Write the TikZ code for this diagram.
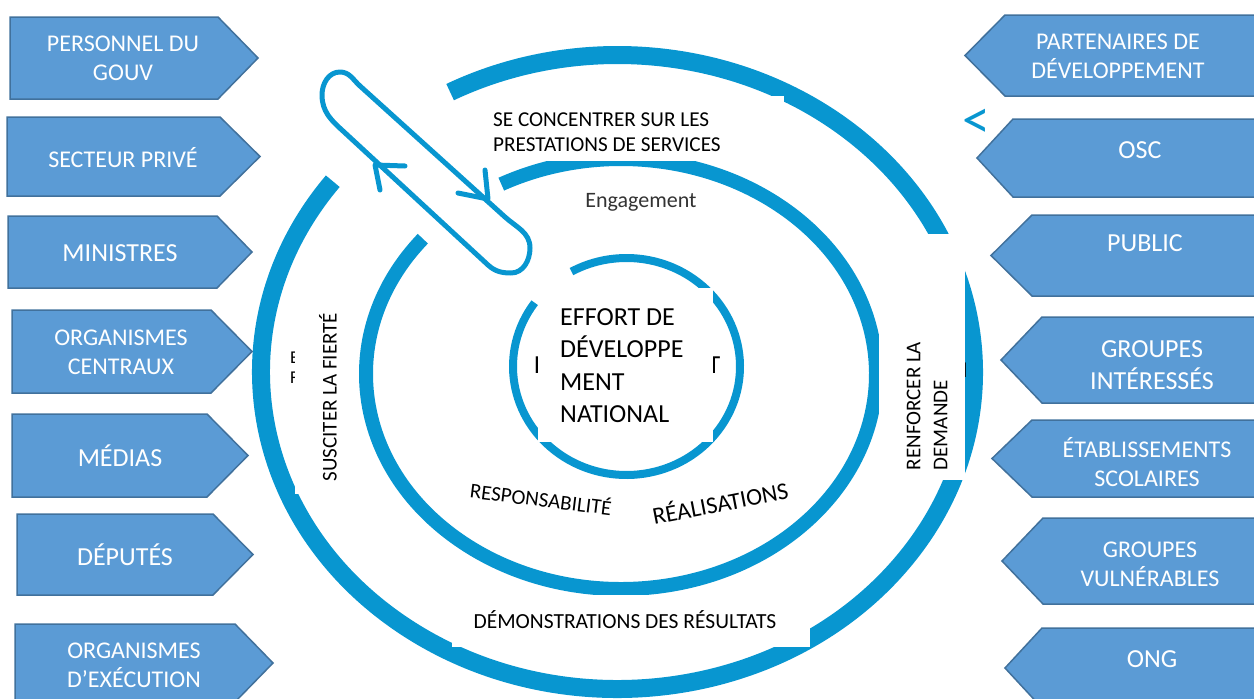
\documentclass[tikz,border=0pt]{standalone}
\usepackage{fontspec}
\setmainfont{Carlito}
\usetikzlibrary{calc}
\definecolor{ringblue}{RGB}{8,150,208}
\definecolor{arrowfill}{RGB}{91,155,213}
\definecolor{arrowline}{RGB}{65,113,156}
\newcommand{\szA}{\fontsize{24}{29}\selectfont}
\newcommand{\szB}{\fontsize{26}{32}\selectfont}
\newcommand{\pentarrow}[5]{\path[abox] (#1,-#2) -- (#4,-#2) -- (#5,{-(#2+#3)/2}) -- (#4,-#3) -- (#1,-#3) -- cycle;}
\begin{document}
\begin{tikzpicture}[x=1pt,y=1pt,
  ringline/.style={draw=ringblue,line width=#1},
  loopline/.style={draw=ringblue,line width=5,line cap=round,line join=round},
  abox/.style={fill=arrowfill,draw=arrowline,line width=1.5},
  atext/.style={text=white,align=center,inner sep=0},
  ctext/.style={text=black,inner sep=0},
  mask/.style={fill=white}]
\useasboundingbox (0,0) rectangle (1254,-699);
\clip (0,0) rectangle (1254,-699);
% rings
\coordinate (oc) at (617.5,-372);
\coordinate (mc) at (621,-374);
\coordinate (ic) at (626.5,-366.5);
\draw[ringline=18] ($(oc)+(143:356.5 and 317)$) arc[start angle=143,end angle=478,x radius=356.5,y radius=317];
\draw[ringline=14] ($(mc)+(141:255 and 215)$) arc[start angle=141,end angle=478,x radius=255,y radius=215];
\draw[ringline=8] ($(ic)+(144:113.5 and 108.5)$) arc[start angle=144,end angle=479,x radius=113.5,y radius=108.5];
% loop arrow
\draw[loopline] (360,-86) -- (505,-217) to[out=-42,in=90] (530,-248) to[out=-90,in=0] (511,-273)
  to[out=180,in=-42] (488,-265) -- (343,-131) to[out=138,in=-90] (322,-95) to[out=90,in=180] (340,-72)
  to[out=0,in=138] cycle;
\draw[loopline] (458,-193) -- (488,-199) -- (485,-170);
\draw[loopline] (380,-190) -- (375,-165) -- (405,-166);
% hidden remnants
\node[ctext,font=\szB] (hidd) at (542,-365) {D};
\node[ctext,font=\szB] (hidt) at (714,-365) {T};
\node[ctext,font=\fontsize{18}{20}\selectfont,align=left,anchor=west] (ef) at (290,-368) {E\\F};
\node[ctext,font=\fontsize{21}{25}\selectfont] (dd) at (962,-370) {d};
\node[text=ringblue,inner sep=0,font=\fontsize{56}{62}\selectfont] (lt) at (976,-124) {<};
% white masks
\fill[mask] (470,-96) rectangle (784,-161);
\fill[mask] (452,-595) rectangle (810,-647);
\fill[mask] (295,-300) rectangle (355,-494);
\fill[mask] (879,-234) rectangle (965,-480);
\fill[mask] (538,-288) rectangle (713,-442);
% ring texts
\node[ctext,align=left,anchor=west,font=\fontsize{21.2}{25}\selectfont] (focus) at (493,-132.5) {SE CONCENTRER SUR LES\\PRESTATIONS DE SERVICES};
\node[inner sep=0,text=black!80,font=\fontsize{22}{26}\selectfont] (eng) at (641,-202) {Engagement};
\node[ctext,align=left,anchor=west,font=\fontsize{26}{32.5}\selectfont] (core) at (560,-365.5) {EFFORT DE\\DÉVELOPPE\\MENT\\NATIONAL};
\node[ctext,rotate=90,font=\fontsize{21}{25}\selectfont] (pride) at (328,-397) {SUSCITER LA FIERTÉ};
\node[ctext,rotate=90,align=left,font=\fontsize{21}{27}\selectfont] (demand) at (927,-406) {RENFORCER LA\\DEMANDE};
\node[ctext,rotate=-7,font=\fontsize{21}{25}\selectfont] (resp) at (541,-498) {RESPONSABILITÉ};
\node[ctext,rotate=11,font=\fontsize{24}{28}\selectfont] (real) at (720,-502) {RÉALISATIONS};
\node[ctext,font=\fontsize{21.5}{26}\selectfont] (demo) at (625,-620) {DÉMONSTRATIONS DES RÉSULTATS};
% left arrows
\pentarrow{10}{17}{99}{218}{258}
\pentarrow{7}{117}{196}{220}{260}
\pentarrow{8}{216}{288}{217}{252}
\pentarrow{12}{310}{393}{211}{252}
\pentarrow{12}{414}{497}{207}{248}
\pentarrow{17}{514}{595}{213}{253}
\pentarrow{15}{624}{702}{235}{273}
\node[atext,font=\szA] (l1) at (123,-58) {PERSONNEL DU\\GOUV};
\node[atext,font=\szA] (l2) at (123,-158) {SECTEUR PRIVÉ};
\node[atext,font=\szB] (l3) at (120,-253) {MINISTRES};
\node[atext,font=\szA] (l4) at (121,-352) {ORGANISMES\\CENTRAUX};
\node[atext,font=\szB] (l5) at (120,-456) {MÉDIAS};
\node[atext,font=\szB] (l6) at (125,-555) {DÉPUTÉS};
\node[atext,font=\szA] (l7) at (134,-665) {ORGANISMES\\D’EXÉCUTION};
% right arrows
\pentarrow{1262}{15}{96}{1005}{965}
\pentarrow{1262}{119}{197}{1013}{977}
\pentarrow{1262}{215}{296}{1032}{991}
\pentarrow{1262}{317}{403}{1042}{1001}
\pentarrow{1262}{420}{497}{1032}{992}
\pentarrow{1262}{518}{604}{1043}{1002}
\pentarrow{1262}{628}{708}{1042}{1005}
\node[atext,font=\szA] (r1) at (1118,-56) {PARTENAIRES DE\\DÉVELOPPEMENT};
\node[atext,font=\szB] (r2) at (1140,-150) {OSC};
\node[atext,font=\szB] (r3) at (1145,-243) {PUBLIC};
\node[atext,font=\szB] (r4) at (1152,-365) {GROUPES\\INTÉRESSÉS};
\node[atext,font=\szA] (r5) at (1147,-462) {ÉTABLISSEMENTS\\SCOLAIRES};
\node[atext,font=\szA] (r6) at (1150,-564) {GROUPES\\VULNÉRABLES};
\node[atext,font=\szB] (r7) at (1152,-659) {ONG};
\end{tikzpicture}
\end{document}
